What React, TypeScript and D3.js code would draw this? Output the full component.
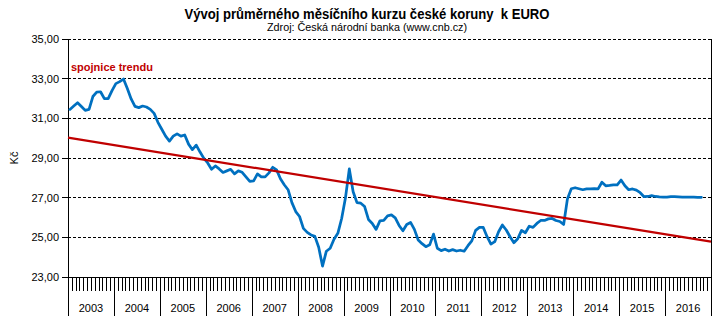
import React from "react";
import * as d3 from "d3";

const years = [2003, 2004, 2005, 2006, 2007, 2008, 2009, 2010, 2011, 2012, 2013, 2014, 2015, 2016];

const r2003 = [31.45, 31.62, 31.79, 31.6, 31.4, 31.45, 32.1, 32.32, 32.34, 31.99, 31.99, 32.4];
const r2004 = [32.75, 32.85, 32.98, 32.5, 31.98, 31.6, 31.54, 31.62, 31.57, 31.45, 31.25, 30.8];
const r2005 = [30.45, 30.1, 29.85, 30.1, 30.22, 30.1, 30.16, 29.7, 29.42, 29.65, 29.3, 28.98];
const r2006 = [28.75, 28.43, 28.6, 28.45, 28.27, 28.35, 28.43, 28.2, 28.35, 28.28, 28.05, 27.82];
const r2007 = [27.85, 28.2, 28.05, 28.05, 28.25, 28.53, 28.4, 27.95, 27.65, 27.4, 26.75, 26.3];
const r2008 = [26.05, 25.45, 25.25, 25.12, 25.05, 24.5, 23.55, 24.3, 24.45, 24.9, 25.2, 25.95];
const r2009 = [27.0, 28.45, 27.3, 26.75, 26.72, 26.55, 25.9, 25.7, 25.4, 25.83, 25.85, 26.08];
const r2010 = [26.13, 25.98, 25.6, 25.33, 25.65, 25.75, 25.4, 24.87, 24.68, 24.53, 24.62, 25.16];
const r2011 = [24.45, 24.33, 24.4, 24.31, 24.38, 24.31, 24.35, 24.3, 24.58, 24.82, 25.35, 25.5];
const r2012 = [25.5, 25.03, 24.66, 24.78, 25.28, 25.62, 25.37, 25.03, 24.73, 24.93, 25.35, 25.23];
const r2013 = [25.56, 25.5, 25.7, 25.85, 25.85, 25.93, 25.95, 25.85, 25.8, 25.65, 26.95, 27.45];
const r2014 = [27.5, 27.45, 27.4, 27.44, 27.44, 27.45, 27.44, 27.78, 27.6, 27.62, 27.65, 27.65];
const r2015 = [27.89, 27.6, 27.4, 27.44, 27.38, 27.25, 27.05, 27.06, 27.1, 27.06, 27.04, 27.03];
const r2016 = [27.03, 27.05, 27.05, 27.04, 27.03, 27.03, 27.03, 27.03, 27.02, 27.02];

const rates = [
  ...r2003, ...r2004, ...r2005, ...r2006, ...r2007, ...r2008, ...r2009,
  ...r2010, ...r2011, ...r2012, ...r2013, ...r2014, ...r2015, ...r2016,
];

// trend line value at the left edge (Jan 2003) and right edge (end of 2016)
const trendStart = 30.03;
const trendEnd = 24.78;

const yTicks = [23, 25, 27, 29, 31, 33, 35];

const title = "Vývoj průměrného měsíčního kurzu české koruny  k EURO";
const subtitle = "Zdroj: Česká národní banka (www.cnb.cz)";
const legendLabel = "spojnice trendu";
const yLabel = "Kč";

const W = 719;
const H = 325;
const L = 68;
const R = 711;
const T = 39;
const B = 277;
const FONT = "'Liberation Sans', Arial, sans-serif";

export default function App() {
  const nMonths = years.length * 12;
  const x = d3.scaleLinear().domain([0, nMonths]).range([L, R]);
  const y = d3.scaleLinear().domain([23, 35]).range([B, T]);

  const line = d3
    .line<number>()
    .x((_, i) => x(i + 0.5))
    .y((d) => y(d));

  const fmt = (v: number) => v.toFixed(2).replace(".", ",");
  const monthTicks = d3.range(0, nMonths + 1);

  return (
    <svg
      width={W}
      height={H}
      style={{ position: "absolute", left: 0, top: 0, background: "#fff" }}
      fontFamily={FONT}
    >
      <rect x={0} y={0} width={W} height={H} fill="#fff" />
      <text x={367} y={19} textAnchor="middle" fontSize={14} fontWeight="bold" textLength={365} lengthAdjust="spacingAndGlyphs" style={{ whiteSpace: "pre" }}>
        {title}
      </text>
      <text x={367} y={31} textAnchor="middle" fontSize={11} textLength={200} lengthAdjust="spacingAndGlyphs">
        {subtitle}
      </text>

      {/* gridlines */}
      {yTicks.filter((t) => t > 23).map((t) => (
        <line key={"g" + t} x1={L} x2={R} y1={y(t)} y2={y(t)} stroke="#000" strokeWidth={1} strokeDasharray="3,2" shapeRendering="crispEdges" />
      ))}
      {/* y ticks and labels */}
      {yTicks.map((t) => (
        <g key={"t" + t}>
          <line x1={62} x2={L} y1={y(t)} y2={y(t)} stroke="#000" strokeWidth={1} shapeRendering="crispEdges" />
          <text x={59} y={y(t) + 4} textAnchor="end" fontSize={11} fill="#000">
            {fmt(t)}
          </text>
        </g>
      ))}
      <text transform={`translate(18,${(T + B) / 2}) rotate(-90)`} textAnchor="middle" fontSize={11}>
        {yLabel}
      </text>

      {/* axes and border */}
      <line x1={L} x2={L} y1={T} y2={316} stroke="#000" strokeWidth={1} shapeRendering="crispEdges" />
      <line x1={R} x2={R} y1={T} y2={316} stroke="#000" strokeWidth={1} shapeRendering="crispEdges" />
      <line x1={L} x2={R} y1={B} y2={B} stroke="#000" strokeWidth={1} shapeRendering="crispEdges" />
      {monthTicks.map((m) => (
        <line key={"m" + m} x1={Math.round(x(m)) + 0.5} x2={Math.round(x(m)) + 0.5} y1={B} y2={m % 12 === 0 ? 316 : 291} stroke="#000" strokeWidth={1} />
      ))}
      {years.map((yr, i) => (
        <text key={"y" + yr} x={x(i * 12 + 6)} y={312} textAnchor="middle" fontSize={11}>
          {yr}
        </text>
      ))}

      {/* data */}
      <path d={line(rates) || ""} fill="none" stroke="#0070C0" strokeWidth={2.75} strokeLinejoin="round" strokeLinecap="round" />
      <line x1={x(0)} x2={x(nMonths)} y1={y(trendStart)} y2={y(trendEnd)} stroke="#C00000" strokeWidth={2.25} />

      <text x={71} y={71} fontSize={11} fontWeight="bold" fill="#C00000">
        {legendLabel}
      </text>
    </svg>
  );
}
